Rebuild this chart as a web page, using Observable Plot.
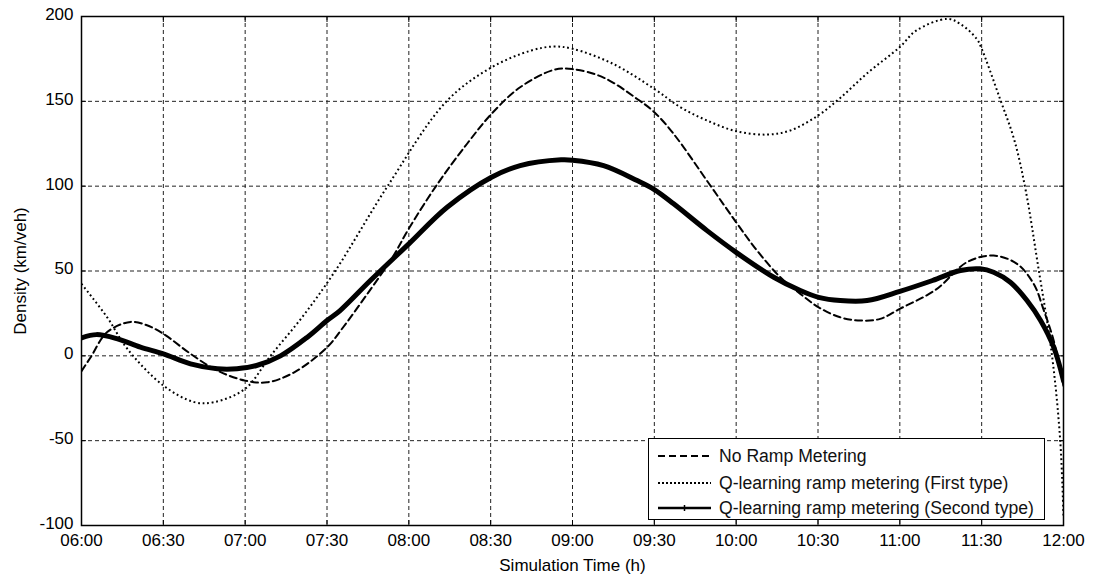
<!DOCTYPE html>
<html>
<head>
<meta charset="utf-8">
<script src="https://cdn.jsdelivr.net/npm/d3@7"></script>
<script src="https://cdn.jsdelivr.net/npm/@observablehq/plot@0.6"></script>
<style>
  html, body { margin: 0; padding: 0; background: #fff; }
  #wrap { position: relative; width: 1093px; height: 576px; font-family: "Liberation Sans", Arial, sans-serif; }
  #legend { position: absolute; left: 648px; top: 438px; width: 397px; height: 82px; border: 1px solid #000; background: #fff; box-sizing: border-box; }
  .row { position: absolute; left: 9px; height: 22px; display: flex; align-items: center; font-size: 17.6px; color: #111; white-space: nowrap; }
  .row svg { margin-right: 8px; }
</style>
</head>
<body>
<div id="wrap"></div>
<script>
// ---- data (time in hours, density in km/veh) ----
const seriesNames = [
  "No Ramp Metering",
  "Q-learning ramp metering (First type)",
  "Q-learning ramp metering (Second type)"
];

const noRampTime = [6.0, 6.055, 6.157, 6.3, 6.4, 6.5, 6.666, 6.83, 7.0, 7.134, 7.3, 7.5, 7.6, 7.75, 7.9, 8.0, 8.173, 8.356, 8.505, 8.68, 8.885, 9.0, 9.19, 9.395, 9.5, 9.618, 9.842, 10.0, 10.128, 10.27, 10.392, 10.504, 10.636, 10.76, 10.88, 11.0, 11.22, 11.41, 11.573, 11.716, 11.818, 11.88, 11.94, 12.0];
const noRampDensity = [-9, -1, 14, 20, 18, 13, 1.2, -8.7, -14.6, -15.6, -9.7, 5, 17, 37, 58, 75, 101, 125, 142.6, 158.3, 168.5, 169, 164, 151.4, 143.6, 130.8, 100.4, 78.7, 62, 46.3, 36.5, 28.6, 22.7, 20.8, 21.8, 27.7, 39, 55.2, 59.1, 54.2, 42.4, 26.7, 9, -18];

const firstTime = [6.0, 6.157, 6.28, 6.5, 6.69, 6.81, 7.0, 7.155, 7.35, 7.55, 7.87, 8.23, 8.505, 8.749, 8.885, 9.0, 9.25, 9.5, 9.66, 9.822, 10.0, 10.19, 10.33, 10.5, 10.636, 10.8, 11.0, 11.1, 11.29, 11.37, 11.47, 11.5, 11.61, 11.7, 11.77, 11.843, 11.93, 11.98, 12.0];
const firstDensity = [42.4, 22.7, 4.1, -17.5, -27.3, -27.3, -19.4, 0, 23, 50, 100, 150, 170, 180, 182.3, 181, 172, 157.3, 146.5, 138.7, 132.4, 130.4, 132.8, 141.6, 152, 166.5, 182, 191.7, 198.6, 195.6, 186.8, 181, 152, 127, 97, 54, 0, -50, -95];

const secondTime = [6.0, 6.092, 6.22, 6.36, 6.5, 6.666, 6.83, 6.95, 7.07, 7.216, 7.38, 7.5, 7.58, 7.765, 8.0, 8.234, 8.505, 8.68, 8.93, 9.0, 9.19, 9.395, 9.5, 9.618, 9.822, 10.0, 10.23, 10.392, 10.504, 10.636, 10.8, 11.0, 11.2, 11.37, 11.49, 11.573, 11.675, 11.777, 11.86, 11.94, 12.0];
const secondDensity = [10.6, 12.5, 10, 5.1, 1.2, -4.7, -7.6, -7.6, -5.7, 0, 11, 20.8, 26.7, 44.4, 66, 87.6, 105.3, 112.1, 115.5, 115.3, 112.1, 103.3, 98, 89.6, 73.8, 61, 46.3, 38.5, 34.5, 32.6, 32.6, 38, 44.4, 50.3, 51.3, 49.3, 43.4, 32.6, 20.8, 5.1, -14.6];

const xTickValues = [6, 6.5, 7, 7.5, 8, 8.5, 9, 9.5, 10, 10.5, 11, 11.5, 12];
const xTickLabels = ["06:00", "06:30", "07:00", "07:30", "08:00", "08:30", "09:00", "09:30", "10:00", "10:30", "11:00", "11:30", "12:00"];
const yTickValues = [-100, -50, 0, 50, 100, 150, 200];
const yTickLabels = ["-100", "-50", "0", "50", "100", "150", "200"];

const rows = (ts, vs) => ts.map((t, i) => ({t, v: vs[i]}));
const noRamp = rows(noRampTime, noRampDensity);
const first = rows(firstTime, firstDensity);
const second = rows(secondTime, secondDensity);

const fmtX = (d) => xTickLabels[xTickValues.indexOf(d)];
const fmtY = (d) => yTickLabels[yTickValues.indexOf(d)];
const blank = () => "";

const chart = Plot.plot({
  width: 1093,
  height: 576,
  marginLeft: 81,
  marginRight: 30,
  marginTop: 16,
  marginBottom: 51,
  style: {fontFamily: "'Liberation Sans', Arial, sans-serif", fontSize: "17px", background: "#fff", color: "#000"},
  x: {domain: [6, 12]},
  y: {domain: [-100, 200]},
  marks: [
    Plot.gridX(xTickValues, {stroke: "#222", strokeOpacity: 1, strokeDasharray: "4,3"}),
    Plot.gridY(yTickValues, {stroke: "#222", strokeOpacity: 1, strokeDasharray: "4,3"}),
    Plot.line(noRamp, {x: "t", y: "v", curve: "catmull-rom", stroke: "#000", strokeWidth: 2, strokeDasharray: "7,4", clip: true}),
    Plot.line(first, {x: "t", y: "v", curve: "catmull-rom", stroke: "#000", strokeWidth: 2, strokeDasharray: "1.8,2.8", strokeLinecap: "butt", clip: true}),
    Plot.line(second, {x: "t", y: "v", curve: "catmull-rom", stroke: "#000", strokeWidth: 5, clip: true}),
    // inward ticks
    Plot.axisX(xTickValues, {anchor: "bottom", tickSize: 5, dy: -5, tickFormat: blank, label: null}),
    Plot.axisX(xTickValues, {anchor: "top", tickSize: 5, dy: 5, tickFormat: blank, label: null}),
    Plot.axisY(yTickValues, {anchor: "left", tickSize: 5, dx: 5, tickFormat: blank, label: null}),
    Plot.axisY(yTickValues, {anchor: "right", tickSize: 5, dx: -5, tickFormat: blank, label: null}),
    // labels
    Plot.axisX(xTickValues, {anchor: "bottom", tickSize: 0, tickPadding: 8, tickFormat: fmtX, fontSize: 17,
      label: "Simulation Time (h)", labelAnchor: "center", labelOffset: 45, labelArrow: "none"}),
    Plot.axisY(yTickValues, {anchor: "left", tickSize: 0, tickPadding: 8, tickFormat: fmtY, fontSize: 17, dy: -2,
      label: "Density (km/veh)", labelAnchor: "center", labelOffset: 68, labelArrow: "none"}),
    Plot.frame({stroke: "#000", strokeWidth: 1.5})
  ]
});

const wrap = document.getElementById("wrap");
wrap.appendChild(chart);

// legend
const legend = document.createElement("div");
legend.id = "legend";
const styles = [
  {dash: "7,4", w: 2},
  {dash: "2,2", w: 2},
  {dash: null, w: 2.5, marker: true}
];
const tops = [6, 33, 58];
seriesNames.forEach((name, i) => {
  const r = document.createElement("div");
  r.className = "row";
  r.style.top = tops[i] + "px";
  const s = styles[i];
  r.innerHTML = `<svg width="53" height="12"><line x1="0" y1="6" x2="53" y2="6" stroke="#000" stroke-width="${s.w}" ${s.dash ? `stroke-dasharray="${s.dash}"` : ""}/>${s.marker ? '<path d="M26.5,3 L26.5,9 M24,6 L29,6" stroke="#000" stroke-width="1.5"/>' : ""}</svg><span>${name}</span>`;
  legend.appendChild(r);
});
wrap.appendChild(legend);
</script>
</body>
</html>
